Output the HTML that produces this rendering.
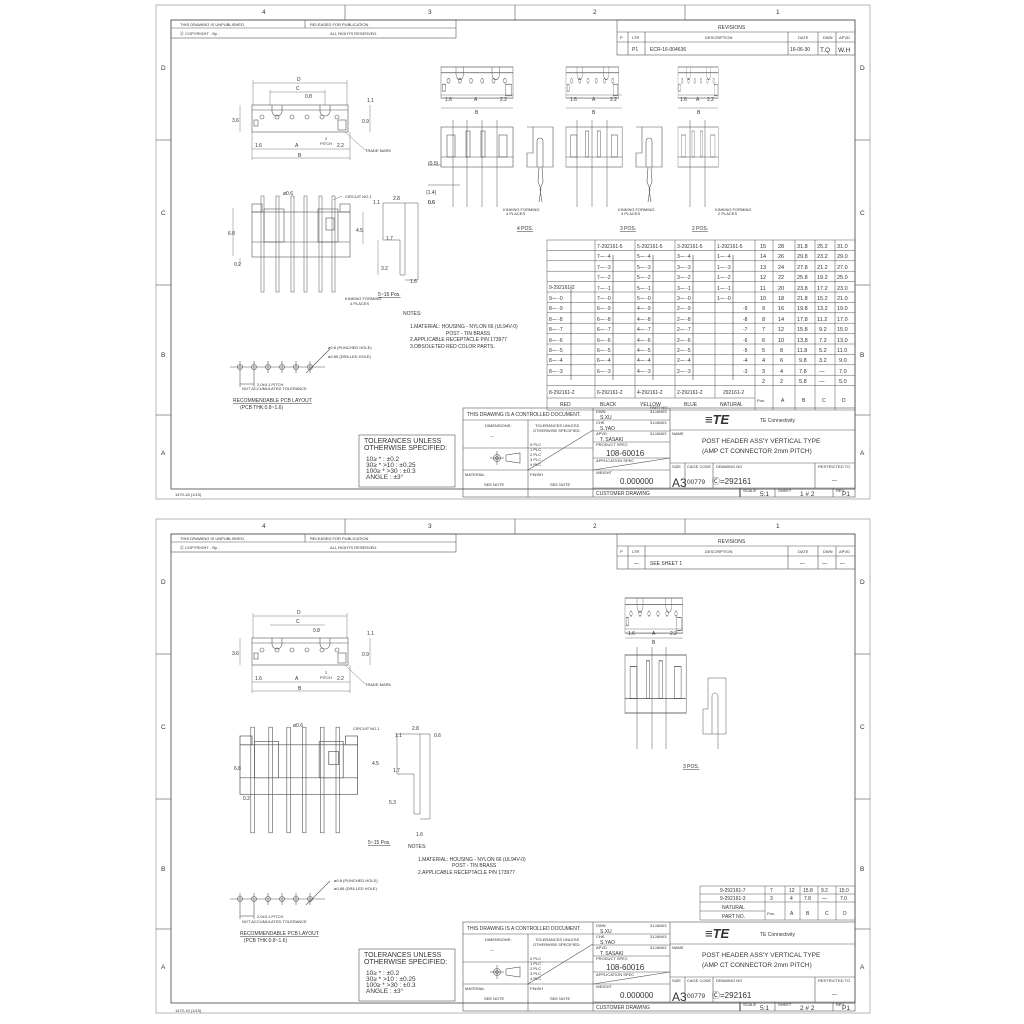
<!DOCTYPE html>
<html><head><meta charset="utf-8"><style>
html,body{margin:0;padding:0;background:#fff;}
svg{display:block;}
text{font-family:"Liberation Sans",sans-serif;fill:#333;}
.t{font-size:5px;}
.s{font-size:4px;}
.m{font-size:6.5px;}
.l{font-size:8px;}
.tl{font-size:7px;}
</style></head><body>
<svg width="1024" height="1024" viewBox="0 0 1024 1024" xmlns="http://www.w3.org/2000/svg" stroke="#555" stroke-width="0.6" fill="none">
<defs>
<g id="frame">
  <rect x="156" y="5" width="714" height="494" stroke="#888"/>
  <rect x="171" y="20" width="684" height="469" stroke="#444" stroke-width="0.8"/>
  <line x1="345" y1="5" x2="345" y2="20"/><line x1="515" y1="5" x2="515" y2="20"/><line x1="685" y1="5" x2="685" y2="20"/>
  <line x1="156" y1="140" x2="171" y2="140"/><line x1="156" y1="285" x2="171" y2="285"/><line x1="156" y1="415" x2="171" y2="415"/>
  <line x1="855" y1="140" x2="870" y2="140"/><line x1="855" y1="285" x2="870" y2="285"/><line x1="855" y1="415" x2="870" y2="415"/>
  <rect x="171" y="20" width="285" height="18"/><line x1="171" y1="28" x2="456" y2="28"/><line x1="305" y1="20" x2="305" y2="28"/>
  <rect x="617" y="20" width="238" height="35"/><line x1="617" y1="32" x2="855" y2="32"/><line x1="617" y1="42" x2="855" y2="42"/>
  <line x1="628" y1="32" x2="628" y2="55"/><line x1="645" y1="32" x2="645" y2="55"/><line x1="788" y1="32" x2="788" y2="55"/><line x1="818" y1="32" x2="818" y2="55"/><line x1="836" y1="32" x2="836" y2="55"/>
  <rect x="463" y="408" width="392" height="89"/>
  <line x1="463" y1="420" x2="593" y2="420"/><line x1="463" y1="448" x2="593" y2="448"/><line x1="463" y1="470" x2="593" y2="470"/>
  <line x1="528" y1="420" x2="528" y2="497"/><line x1="593" y1="408" x2="593" y2="497"/>
  <line x1="528" y1="470" x2="593" y2="430"/>
  <line x1="593" y1="420" x2="670" y2="420"/><line x1="593" y1="431" x2="670" y2="431"/><line x1="593" y1="442" x2="670" y2="442"/><line x1="593" y1="458" x2="670" y2="458"/><line x1="593" y1="470" x2="670" y2="470"/><line x1="593" y1="488" x2="855" y2="488"/>
  <line x1="593" y1="470" x2="670" y2="458"/>
  <line x1="670" y1="408" x2="670" y2="488"/>
  <line x1="670" y1="430" x2="855" y2="430"/><line x1="670" y1="463" x2="855" y2="463"/>
  <line x1="685" y1="463" x2="685" y2="488"/><line x1="713" y1="463" x2="713" y2="488"/><line x1="815" y1="463" x2="815" y2="488"/>
  <line x1="740" y1="488" x2="740" y2="497" stroke-width="1.2"/><line x1="775" y1="488" x2="775" y2="497"/><line x1="833" y1="488" x2="833" y2="497"/>
  <circle cx="497" cy="458" r="3.5"/><circle cx="497" cy="458" r="1.5"/><line x1="490" y1="458" x2="504" y2="458"/><line x1="497" y1="451" x2="497" y2="465"/>
  <path d="M506 455 L520 453 L520 463 L506 461 Z"/>
  <rect x="359" y="435" width="96" height="52"/>
</g>
<g id="topview">
  <rect x="0" y="0" width="96" height="27"/><line x1="0" y1="5" x2="96" y2="5"/>
  <path d="M20 0 v6 a5 5 0 0 0 10 0 v-6 M68 0 v6 a5 5 0 0 0 10 0 v-6"/>
  <circle cx="10" cy="12" r="2"/><circle cx="25" cy="12" r="2"/><circle cx="40" cy="12" r="2"/><circle cx="55" cy="12" r="2"/><circle cx="70" cy="12" r="2"/><circle cx="85" cy="12" r="2"/>
  <rect x="2" y="15" width="4" height="6"/><rect x="86" y="15" width="8" height="10"/>
</g>
<g id="sideview">
  <rect x="0" y="8" width="98" height="45"/><line x1="0" y1="38" x2="98" y2="38"/>
  <rect x="0" y="0" width="10" height="8"/><rect x="88" y="0" width="10" height="8"/>
  <rect x="12" y="5" width="20" height="33"/><rect x="66" y="5" width="20" height="33"/>
  <g stroke-width="0.5">
  <rect x="9" y="-8" width="3" height="96"/><rect x="24" y="-8" width="3" height="96"/><rect x="39" y="-8" width="3" height="96"/><rect x="52" y="-8" width="3" height="96"/><rect x="67" y="-8" width="3" height="96"/><rect x="80" y="-8" width="3" height="96"/>
  </g>
  <rect x="74" y="14" width="8" height="12"/>
</g>
<g id="front">
  <rect x="0" y="0" width="72" height="40"/><line x1="0" y1="30" x2="72" y2="30"/>
  <rect x="6" y="8" width="8" height="22"/><rect x="58" y="8" width="8" height="22"/>
  <rect x="25" y="4" width="4" height="26"/><rect x="40" y="4" width="4" height="26"/>
</g>
<g id="prof">
  <path d="M0 0 H26 V40 H0 V26 H6 V0 Z"/>
  <path d="M10 40 V14 a3 3 0 0 1 6 0 V40"/>
  <path d="M12 40 L11 55 L14 62 L12 75 M15 40 L16 55 L13 62 L15 75"/>
</g>
<g id="pcb">
  <line x1="0" y1="0" x2="95" y2="0"/>
  <circle cx="10" cy="0" r="2.5"/><circle cx="24" cy="0" r="2.5"/><circle cx="38" cy="0" r="2.5"/><circle cx="52" cy="0" r="2.5"/><circle cx="66" cy="0" r="2.5"/><circle cx="80" cy="0" r="2.5"/>
  <line x1="10" y1="-6" x2="10" y2="20"/><line x1="24" y1="-6" x2="24" y2="20"/><line x1="38" y1="-6" x2="38" y2="6"/><line x1="52" y1="-6" x2="52" y2="6"/><line x1="66" y1="-6" x2="66" y2="6"/><line x1="80" y1="-6" x2="80" y2="6"/>
  <line x1="10" y1="17" x2="24" y2="17"/><line x1="76" y1="6" x2="100" y2="-18"/>
</g>
</defs>

<use href="#frame"/>
<g stroke="none">
<text class="m" x="262" y="14">4</text><text class="m" x="428" y="14">3</text><text class="m" x="593" y="14">2</text><text class="m" x="776" y="14">1</text>
<text class="m" x="161" y="70">D</text><text class="m" x="161" y="215">C</text><text class="m" x="161" y="357">B</text><text class="m" x="161" y="455">A</text>
<text class="m" x="860" y="70">D</text><text class="m" x="860" y="215">C</text><text class="m" x="860" y="357">B</text><text class="m" x="860" y="455">A</text>
<text class="s" x="180" y="26">THIS DRAWING IS UNPUBLISHED.</text><text class="s" x="310" y="26">RELEASED FOR PUBLICATION</text>
<text class="s" x="180" y="35">Ⓒ COPYRIGHT  -   By -</text><text class="s" x="330" y="35">ALL RIGHTS RESERVED.</text>
<text class="t" x="718" y="29">REVISIONS</text>
<text class="s" x="620" y="39">P</text><text class="s" x="632" y="39">LTR</text><text class="s" x="705" y="39">DESCRIPTION</text><text class="s" x="798" y="39">DATE</text><text class="s" x="823" y="39">DWN</text><text class="s" x="839" y="39">APVD</text>
<text class="t" x="632" y="51">P1</text><text class="t" x="650" y="51">ECR-16-004636</text><text class="t" x="790" y="51">16-06-30</text><text class="m" x="820" y="52">T.Q</text><text class="m" x="838" y="52">W.H</text>
</g>

<use href="#topview" x="252" y="105"/>
<g stroke-width="0.4">
<line x1="253" y1="83" x2="347" y2="83"/><line x1="253" y1="80" x2="253" y2="105"/><line x1="347" y1="80" x2="347" y2="105"/>
<line x1="270" y1="92" x2="325" y2="92"/><line x1="270" y1="90" x2="270" y2="105"/><line x1="325" y1="90" x2="325" y2="105"/>
<line x1="252" y1="149" x2="350" y2="149"/><line x1="252" y1="158" x2="350" y2="158"/><line x1="252" y1="132" x2="252" y2="160"/><line x1="350" y1="132" x2="350" y2="160"/>
<line x1="240" y1="105" x2="240" y2="132"/><line x1="370" y1="105" x2="370" y2="132"/><line x1="345" y1="132" x2="365" y2="150"/>
</g>
<use href="#sideview" x="252" y="204"/>
<g stroke-width="0.4"><line x1="233" y1="208" x2="233" y2="256"/><line x1="240" y1="258" x2="240" y2="266"/><line x1="363" y1="212" x2="363" y2="244"/><line x1="333" y1="200" x2="342" y2="196"/></g>
<path d="M383 203 H405 V275 H400 V240 H383 Z M405 203 H418 V280 H405" stroke-width="0.5"/>
<line x1="378" y1="240" x2="378" y2="275" stroke-width="0.4"/>
<g stroke="none">
<text class="t" x="297" y="81">D</text><text class="t" x="296" y="90">C</text><text class="t" x="305" y="98">0.8</text><text class="t" x="367" y="102">1.1</text>
<text class="t" x="232" y="122">3.6</text><text class="t" x="362" y="123">0.9</text><text class="s" x="325" y="140">2</text><text class="s" x="320" y="145">PITCH</text>
<text class="t" x="255" y="147">1.6</text><text class="t" x="295" y="147">A</text><text class="t" x="337" y="147">2.2</text><text class="t" x="298" y="157">B</text>
<text class="s" x="365" y="152">TRADE MARK</text>
<text class="t" x="283" y="195">ø0.6</text><text class="s" x="345" y="198">CIRCUIT NO.1</text>
<text class="t" x="228" y="235">6.8</text><text class="t" x="356" y="232">4.5</text><text class="t" x="234" y="266">0.2</text>
<text class="s" x="345" y="300">KINKING FORMING</text><text class="s" x="350" y="305">4 PLACES</text>
<text class="t" x="393" y="200">2.8</text><text class="t" x="373" y="204">1.1</text><text class="t" x="428" y="204">0.6</text><text class="t" x="386" y="240">1.7</text><text class="t" x="381" y="270">3.2</text><text class="t" x="410" y="283">1.6</text>
<text class="t" x="378" y="296" text-decoration="underline">5~15 Pos.</text>
</g>

<use href="#topview" x="441" y="67" transform="translate(441 67) scale(0.75 1.15) translate(-441 -67)"/>
<use href="#topview" x="566" y="67" transform="translate(566 67) scale(0.55 1.15) translate(-566 -67)"/>
<use href="#topview" x="678" y="67" transform="translate(678 67) scale(0.42 1.15) translate(-678 -67)"/>
<g stroke-width="0.4">
<line x1="441" y1="95" x2="513" y2="95"/><line x1="441" y1="108" x2="513" y2="108"/>
<line x1="566" y1="95" x2="622" y2="95"/><line x1="566" y1="108" x2="622" y2="108"/>
<line x1="678" y1="95" x2="718" y2="95"/><line x1="678" y1="108" x2="718" y2="108"/>
</g>
<use href="#front" x="441" y="127"/>
<use href="#front" x="566" y="127" transform="translate(566 127) scale(0.78 1) translate(-566 -127)"/>
<use href="#front" x="678" y="127" transform="translate(678 127) scale(0.56 1) translate(-678 -127)"/>
<g stroke-width="0.5">
<line x1="453" y1="120" x2="453" y2="207"/><line x1="467" y1="120" x2="467" y2="207"/><line x1="482" y1="120" x2="482" y2="207"/><line x1="497" y1="120" x2="497" y2="207"/>
<line x1="577" y1="120" x2="577" y2="207"/><line x1="592" y1="120" x2="592" y2="207"/><line x1="607" y1="120" x2="607" y2="207"/>
<line x1="690" y1="120" x2="690" y2="207"/><line x1="705" y1="120" x2="705" y2="207"/>
<line x1="428" y1="165" x2="441" y2="165"/><line x1="428" y1="185" x2="460" y2="185"/>
</g>
<use href="#prof" x="527" y="127"/><use href="#prof" x="636" y="127"/>
<g stroke="none">
<text class="t" x="445" y="101">1.6</text><text class="t" x="474" y="101">A</text><text class="t" x="500" y="101">2.2</text><text class="t" x="475" y="114">B</text>
<text class="t" x="570" y="101">1.6</text><text class="t" x="592" y="101">A</text><text class="t" x="610" y="101">2.2</text><text class="t" x="592" y="114">B</text>
<text class="t" x="680" y="101">1.6</text><text class="t" x="696" y="101">A</text><text class="t" x="707" y="101">2.2</text><text class="t" x="697" y="114">B</text>
<text class="t" x="428" y="165">(0.5)</text><text class="t" x="426" y="194">(1.4)</text><text class="t" x="428" y="204">0.6</text>
<text class="s" x="503" y="211">KINKING FORMING</text><text class="s" x="506" y="215">4 PLACES</text>
<text class="s" x="618" y="211">KINKING FORMING</text><text class="s" x="621" y="215">3 PLACES</text>
<text class="s" x="715" y="211">KINKING FORMING</text><text class="s" x="718" y="215">2 PLACES</text>
<text class="t" x="517" y="230" text-decoration="underline">4 POS.</text><text class="t" x="620" y="230" text-decoration="underline">3 POS.</text><text class="t" x="692" y="230" text-decoration="underline">2 POS.</text>
<text class="t" x="403" y="315">NOTES:</text>
<text class="t" x="410" y="328">1.MATERIAL: HOUSING  -  NYLON 66 (UL94V-0)</text>
<text class="t" x="446" y="335">POST   -  TIN BRASS</text>
<text class="t" x="410" y="341">2.APPLICABLE RECEPTACLE P/N 173977</text>
<text class="t" x="410" y="348">3.OBSOLETED RED COLOR PARTS.</text>
</g>
<use href="#pcb" x="230" y="367"/>
<g stroke="none">
<text class="s" x="328" y="349">ø0.8 (PUNCHED HOLE)</text><text class="s" x="328" y="358">ø0.85 (DRILLED HOLE)</text>
<text class="s" x="257" y="386">2.0±0.1 PITCH</text><text class="s" x="242" y="390">NOT ACCUMULATED TOLERANCE</text>
<text class="t" x="233" y="402" text-decoration="underline">RECOMMENDABLE PCB LAYOUT</text><text class="t" x="240" y="409">(PCB THK:0.8~1.6)</text>
<text class="tl" x="364" y="443">TOLERANCES UNLESS</text><text class="tl" x="364" y="450">OTHERWISE SPECIFIED:</text>
<text class="m" x="366" y="461">10≥  *          :  ±0.2</text><text class="m" x="366" y="467">30≥  *  &gt;10   :  ±0.25</text><text class="m" x="366" y="473">100≥  *  &gt;30  :  ±0.3</text><text class="m" x="366" y="479">ANGLE           :  ±3°</text>
<text class="s" x="175" y="496">1470-18  (1/15)</text>
</g>

<g stroke-width="0.5">
<rect x="547" y="240" width="308" height="170"/>
<line x1="595" y1="240" x2="595" y2="398"/><line x1="635" y1="240" x2="635" y2="398"/><line x1="675" y1="240" x2="675" y2="398"/><line x1="715" y1="240" x2="715" y2="398"/><line x1="755" y1="240" x2="755" y2="410"/>
<line x1="773" y1="240" x2="773" y2="410"/><line x1="795" y1="240" x2="795" y2="410"/><line x1="815" y1="240" x2="815" y2="410"/><line x1="835" y1="240" x2="835" y2="410"/>
<line x1="547" y1="398" x2="755" y2="398"/>
<path d="M547 250.4H855M547 260.8H855M547 271.2H855M547 281.6H855M547 292H855M547 302.4H855M547 312.8H855M547 323.2H855M547 333.6H855M547 344H855M547 354.4H855M547 364.8H855M547 375.2H855M547 385.6H855"/>
<path d="M571 285 V380 M613 255 V380 M653 255 V380 M693 255 V380 M733 255 V380" stroke="#222"/>
</g>
<g stroke="none" font-size="5.5">
<text x="597" y="248" class="t">7-292161-5</text><text x="637" y="248" class="t">5-292161-5</text><text x="677" y="248" class="t">3-292161-5</text><text x="717" y="248" class="t">1-292161-5</text>
<text x="549" y="289" class="t">9-292161-2</text>
<text x="549" y="394" class="t">8-292161-2</text><text x="597" y="394" class="t">6-292161-2</text><text x="637" y="394" class="t">4-292161-2</text><text x="677" y="394" class="t">2-292161-2</text><text x="723" y="394" class="t">292161-2</text>
<text x="560" y="406" class="t">RED</text><text x="600" y="406" class="t">BLACK</text><text x="640" y="406" class="t">YELLOW</text><text x="684" y="406" class="t">BLUE</text><text x="720" y="406" class="t">NATURAL</text>
<text x="650" y="409" class="s">PART NO.</text><text x="757" y="402" class="s">Pos.</text><text x="781" y="402" class="t">A</text><text x="802" y="402" class="t">B</text><text x="822" y="402" class="t">C</text><text x="842" y="402" class="t">D</text>
</g>
<g stroke="none" font-size="5.5">
<text x="760" y="248">15</text><text x="778" y="248">28</text><text x="797" y="248">31.8</text><text x="817" y="248">25.2</text><text x="837" y="248">31.0</text>
<text x="760" y="258">14</text><text x="778" y="258">26</text><text x="797" y="258">29.8</text><text x="817" y="258">23.2</text><text x="837" y="258">29.0</text>
<text x="760" y="269">13</text><text x="778" y="269">24</text><text x="797" y="269">27.8</text><text x="817" y="269">21.2</text><text x="837" y="269">27.0</text>
<text x="760" y="279">12</text><text x="778" y="279">22</text><text x="797" y="279">25.8</text><text x="817" y="279">19.2</text><text x="837" y="279">25.0</text>
<text x="760" y="290">11</text><text x="778" y="290">20</text><text x="797" y="290">23.8</text><text x="817" y="290">17.2</text><text x="837" y="290">23.0</text>
<text x="760" y="300">10</text><text x="778" y="300">18</text><text x="797" y="300">21.8</text><text x="817" y="300">15.2</text><text x="837" y="300">21.0</text>
<text x="762" y="310">9</text><text x="778" y="310">16</text><text x="797" y="310">19.8</text><text x="817" y="310">13.2</text><text x="837" y="310">19.0</text>
<text x="762" y="321">8</text><text x="778" y="321">14</text><text x="797" y="321">17.8</text><text x="817" y="321">11.2</text><text x="837" y="321">17.0</text>
<text x="762" y="331">7</text><text x="778" y="331">12</text><text x="797" y="331">15.8</text><text x="819" y="331">9.2</text><text x="837" y="331">15.0</text>
<text x="762" y="342">6</text><text x="778" y="342">10</text><text x="797" y="342">13.8</text><text x="819" y="342">7.2</text><text x="837" y="342">13.0</text>
<text x="762" y="352">5</text><text x="780" y="352">8</text><text x="797" y="352">11.8</text><text x="819" y="352">5.2</text><text x="837" y="352">11.0</text>
<text x="762" y="362">4</text><text x="780" y="362">6</text><text x="799" y="362">9.8</text><text x="819" y="362">3.2</text><text x="839" y="362">9.0</text>
<text x="762" y="373">3</text><text x="780" y="373">4</text><text x="799" y="373">7.8</text><text x="819" y="373">—</text><text x="839" y="373">7.0</text>
<text x="762" y="383">2</text><text x="780" y="383">2</text><text x="799" y="383">5.8</text><text x="819" y="383">—</text><text x="839" y="383">5.0</text>
</g>
<g stroke="none" font-size="5">
<text x="597" y="258">7—   -4</text><text x="637" y="258">5—   -4</text><text x="677" y="258">3—   -4</text><text x="717" y="258">1—   -4</text>
<text x="597" y="269">7—   -3</text><text x="637" y="269">5—   -3</text><text x="677" y="269">3—   -3</text><text x="717" y="269">1—   -3</text>
<text x="597" y="279">7—   -2</text><text x="637" y="279">5—   -2</text><text x="677" y="279">3—   -2</text><text x="717" y="279">1—   -2</text>
<text x="597" y="290">7—   -1</text><text x="637" y="290">5—   -1</text><text x="677" y="290">3—   -1</text><text x="717" y="290">1—   -1</text>
<text x="597" y="300">7—   -0</text><text x="637" y="300">5—   -0</text><text x="677" y="300">3—   -0</text><text x="717" y="300">1—   -0</text>
<text x="597" y="310">6—   -9</text><text x="637" y="310">4—   -9</text><text x="677" y="310">2—   -9</text><text x="743" y="310">-9</text>
<text x="597" y="321">6—   -8</text><text x="637" y="321">4—   -8</text><text x="677" y="321">2—   -8</text><text x="743" y="321">-8</text>
<text x="597" y="331">6—   -7</text><text x="637" y="331">4—   -7</text><text x="677" y="331">2—   -7</text><text x="743" y="331">-7</text>
<text x="597" y="342">6—   -6</text><text x="637" y="342">4—   -6</text><text x="677" y="342">2—   -6</text><text x="743" y="342">-6</text>
<text x="597" y="352">6—   -5</text><text x="637" y="352">4—   -5</text><text x="677" y="352">2—   -5</text><text x="743" y="352">-5</text>
<text x="597" y="362">6—   -4</text><text x="637" y="362">4—   -4</text><text x="677" y="362">2—   -4</text><text x="743" y="362">-4</text>
<text x="597" y="373">6—   -3</text><text x="637" y="373">4—   -3</text><text x="677" y="373">2—   -3</text><text x="743" y="373">-3</text>
<text x="549" y="300">9—   -0</text><text x="549" y="310">8—   -9</text><text x="549" y="321">8—   -8</text><text x="549" y="331">8—   -7</text><text x="549" y="342">8—   -6</text><text x="549" y="352">8—   -5</text><text x="549" y="362">8—   -4</text><text x="549" y="373">8—   -3</text>
</g>

<g stroke="none">
<text class="t" x="467" y="416">THIS DRAWING IS A CONTROLLED DOCUMENT.</text>
<text class="s" x="485" y="427">DIMENSIONS:</text><text class="s" x="535" y="427">TOLERANCES UNLESS</text><text class="s" x="533" y="432">OTHERWISE SPECIFIED:</text>
<text class="s" x="490" y="437">—</text>
<text class="s" x="530" y="446">0 PLC</text><text class="s" x="530" y="451">1 PLC</text><text class="s" x="530" y="456">2 PLC</text><text class="s" x="530" y="461">3 PLC</text><text class="s" x="530" y="466">4 PLC</text>
<text class="s" x="465" y="476">MATERIAL</text><text class="s" x="530" y="476">FINISH</text><text class="s" x="484" y="486">SEE NOTE</text><text class="s" x="550" y="486">SEE NOTE</text>
<text class="s" x="596" y="413">DWN</text><text class="t" x="600" y="419">S.XU</text><text class="s" x="650" y="413">31JAN03</text>
<text class="s" x="596" y="424">CHK</text><text class="t" x="600" y="430">S.YAO</text><text class="s" x="650" y="424">31JAN03</text>
<text class="s" x="596" y="435">APVD</text><text class="t" x="600" y="441">T. SASAKI</text><text class="s" x="650" y="435">31JAN03</text>
<text class="s" x="596" y="446">PRODUCT SPEC</text><text class="l" x="606" y="456">108-60016</text>
<text class="s" x="596" y="462">APPLICATION SPEC</text><text class="s" x="596" y="474">WEIGHT</text><text class="l" x="620" y="484">0.000000</text>
<text class="t" x="596" y="495">CUSTOMER DRAWING</text>
<text x="705" y="424" font-size="13" font-weight="bold" font-style="italic" fill="#111">≡TE</text><text class="t" x="760" y="422">TE Connectivity</text>
<text class="s" x="672" y="435">NAME</text>
<text class="m" x="702" y="443">POST HEADER ASS'Y VERTICAL TYPE</text><text class="m" x="702" y="453">(AMP CT CONNECTOR 2mm PITCH)</text>
<text class="s" x="672" y="468">SIZE</text><text class="s" x="687" y="468">CAGE CODE</text><text class="s" x="716" y="468">DRAWING NO</text><text class="s" x="818" y="468">RESTRICTED TO</text>
<text x="672" y="487" font-size="12">A3</text><text class="m" x="687" y="484">00779</text><text class="l" x="712" y="484">Ⓒ=292161</text><text class="t" x="832" y="482">—</text>
<text class="s" x="743" y="492">SCALE</text><text class="m" x="760" y="496">5:1</text><text class="s" x="778" y="492">SHEET</text><text class="m" x="800" y="496">1 # 2</text><text class="s" x="836" y="492">REV</text><text class="m" x="842" y="496">P1</text>
</g>

<g transform="translate(0 514)">
<use href="#frame"/>
<g stroke="none">
<text class="m" x="262" y="14">4</text><text class="m" x="428" y="14">3</text><text class="m" x="593" y="14">2</text><text class="m" x="776" y="14">1</text>
<text class="m" x="161" y="70">D</text><text class="m" x="161" y="215">C</text><text class="m" x="161" y="357">B</text><text class="m" x="161" y="455">A</text>
<text class="m" x="860" y="70">D</text><text class="m" x="860" y="215">C</text><text class="m" x="860" y="357">B</text><text class="m" x="860" y="455">A</text>
<text class="s" x="180" y="26">THIS DRAWING IS UNPUBLISHED.</text><text class="s" x="310" y="26">RELEASED FOR PUBLICATION</text>
<text class="s" x="180" y="35">Ⓒ COPYRIGHT  -   By -</text><text class="s" x="330" y="35">ALL RIGHTS RESERVED.</text>
<text class="t" x="718" y="29">REVISIONS</text>
<text class="s" x="620" y="39">P</text><text class="s" x="632" y="39">LTR</text><text class="s" x="705" y="39">DESCRIPTION</text><text class="s" x="798" y="39">DATE</text><text class="s" x="823" y="39">DWN</text><text class="s" x="839" y="39">APVD</text>
<text class="t" x="634" y="51">—</text><text class="t" x="650" y="51">SEE SHEET 1</text><text class="t" x="800" y="51">—</text><text class="t" x="822" y="51">—</text><text class="t" x="840" y="51">—</text>
</g>
<use href="#topview" x="252" y="124"/>
<g stroke-width="0.4">
<line x1="253" y1="102" x2="347" y2="102"/><line x1="253" y1="99" x2="253" y2="124"/><line x1="347" y1="99" x2="347" y2="124"/>
<line x1="270" y1="111" x2="325" y2="111"/>
<line x1="252" y1="168" x2="350" y2="168"/><line x1="252" y1="177" x2="350" y2="177"/><line x1="252" y1="151" x2="252" y2="179"/><line x1="350" y1="151" x2="350" y2="179"/>
<line x1="240" y1="124" x2="240" y2="151"/><line x1="370" y1="124" x2="370" y2="151"/><line x1="345" y1="151" x2="365" y2="170"/>
</g>
<use href="#sideview" x="240" y="222" transform="translate(240 222) scale(1.2 1.1) translate(-240 -222)"/>
<path d="M397 220 H420 V300 H414 V260 H397 Z M420 220 H430 V305 H420" stroke-width="0.5"/>
<g stroke="none">
<text class="t" x="297" y="100">D</text><text class="t" x="296" y="109">C</text><text class="t" x="313" y="118">0.8</text><text class="t" x="367" y="121">1.1</text>
<text class="t" x="232" y="141">3.6</text><text class="t" x="362" y="142">0.9</text><text class="s" x="325" y="160">2</text><text class="s" x="320" y="165">PITCH</text>
<text class="t" x="255" y="166">1.6</text><text class="t" x="295" y="166">A</text><text class="t" x="337" y="166">2.2</text><text class="t" x="298" y="176">B</text>
<text class="s" x="365" y="172">TRADE MARK</text>
<text class="t" x="293" y="213">ø0.6</text><text class="s" x="353" y="216">CIRCUIT NO.1</text>
<text class="t" x="234" y="256">6.8</text><text class="t" x="372" y="251">4.5</text><text class="t" x="243" y="286">0.2</text>
<text class="t" x="395" y="223">1.1</text><text class="t" x="412" y="216">2.8</text><text class="t" x="434" y="223">0.6</text><text class="t" x="393" y="258">1.7</text><text class="t" x="389" y="290">5.3</text><text class="t" x="416" y="322">1.6</text>
<text class="t" x="368" y="330" text-decoration="underline">5~15 Pos.</text>
<text class="t" x="408" y="334">NOTES:</text>
<text class="t" x="418" y="347">1.MATERIAL: HOUSING  -  NYLON 66 (UL94V-0)</text>
<text class="t" x="452" y="353">POST   -  TIN BRASS</text>
<text class="t" x="418" y="360">2.APPLICABLE RECEPTACLE P/N 173977</text>
</g>
<use href="#topview" x="625" y="84" transform="translate(625 84) scale(0.6 1.3) translate(-625 -84)"/>
<g stroke-width="0.4"><line x1="625" y1="115" x2="683" y2="115"/><line x1="625" y1="124" x2="683" y2="124"/></g>
<use href="#front" x="625" y="141" transform="translate(625 141) scale(0.85 1.45) translate(-625 -141)"/>
<g stroke-width="0.5"><line x1="637" y1="133" x2="637" y2="235"/><line x1="652" y1="133" x2="652" y2="235"/><line x1="666" y1="133" x2="666" y2="235"/></g>
<path d="M708 164 H726 V220 H703 V195 H708 Z" stroke-width="0.5"/><path d="M712 220 V182 a3 3 0 0 1 6 0 V235" stroke-width="0.5"/>
<g stroke="none">
<text class="t" x="628" y="121">1.6</text><text class="t" x="652" y="121">A</text><text class="t" x="670" y="121">2.2</text><text class="t" x="652" y="130">B</text>
<text class="t" x="683" y="254" text-decoration="underline">3 POS.</text>
</g>
<use href="#pcb" x="230" y="385"/>
<g stroke="none">
<text class="s" x="334" y="368">ø0.8 (PUNCHED HOLE)</text><text class="s" x="334" y="376">ø0.85 (DRILLED HOLE)</text>
<text class="s" x="257" y="404">2.0±0.1 PITCH</text><text class="s" x="242" y="409">NOT ACCUMULATED TOLERANCE</text>
<text class="t" x="240" y="421" text-decoration="underline">RECOMMENDABLE PCB LAYOUT</text><text class="t" x="244" y="428">(PCB THK:0.8~1.6)</text>
<text class="tl" x="364" y="443">TOLERANCES UNLESS</text><text class="tl" x="364" y="450">OTHERWISE SPECIFIED:</text>
<text class="m" x="366" y="461">10≥  *          :  ±0.2</text><text class="m" x="366" y="467">30≥  *  &gt;10   :  ±0.25</text><text class="m" x="366" y="473">100≥  *  &gt;30  :  ±0.3</text><text class="m" x="366" y="479">ANGLE           :  ±3°</text>
<text class="s" x="175" y="498">1470-19  (1/15)</text>
</g>
<g stroke-width="0.5">
<rect x="700" y="372" width="155" height="34"/>
<line x1="700" y1="380" x2="855" y2="380"/><line x1="700" y1="388" x2="855" y2="388"/><line x1="700" y1="397" x2="765" y2="397"/>
<line x1="765" y1="372" x2="765" y2="406"/><line x1="785" y1="372" x2="785" y2="406"/><line x1="800" y1="372" x2="800" y2="406"/><line x1="818" y1="372" x2="818" y2="406"/><line x1="836" y1="372" x2="836" y2="406"/>
</g>
<g stroke="none" font-size="5">
<text x="720" y="378">9-292161-7</text><text x="770" y="378">7</text><text x="789" y="378">12</text><text x="803" y="378">15.8</text><text x="821" y="378">9.2</text><text x="839" y="378">15.0</text>
<text x="720" y="386">9-292161-3</text><text x="770" y="386">3</text><text x="790" y="386">4</text><text x="804" y="386">7.8</text><text x="822" y="386">—</text><text x="840" y="386">7.0</text>
<text x="722" y="395">NATURAL</text><text x="722" y="404">PART NO.</text>
<text x="767" y="401" font-size="4">Pos.</text><text x="790" y="401">A</text><text x="806" y="401">B</text><text x="825" y="401">C</text><text x="843" y="401">D</text>
</g>
<g stroke="none">
<text class="t" x="467" y="416">THIS DRAWING IS A CONTROLLED DOCUMENT.</text>
<text class="s" x="485" y="427">DIMENSIONS:</text><text class="s" x="535" y="427">TOLERANCES UNLESS</text><text class="s" x="533" y="432">OTHERWISE SPECIFIED:</text>
<text class="s" x="490" y="437">—</text>
<text class="s" x="530" y="446">0 PLC</text><text class="s" x="530" y="451">1 PLC</text><text class="s" x="530" y="456">2 PLC</text><text class="s" x="530" y="461">3 PLC</text><text class="s" x="530" y="466">4 PLC</text>
<text class="s" x="465" y="476">MATERIAL</text><text class="s" x="530" y="476">FINISH</text><text class="s" x="484" y="486">SEE NOTE</text><text class="s" x="550" y="486">SEE NOTE</text>
<text class="s" x="596" y="413">DWN</text><text class="t" x="600" y="419">S.XU</text><text class="s" x="650" y="413">31JAN03</text>
<text class="s" x="596" y="424">CHK</text><text class="t" x="600" y="430">S.YAO</text><text class="s" x="650" y="424">31JAN03</text>
<text class="s" x="596" y="435">APVD</text><text class="t" x="600" y="441">T. SASAKI</text><text class="s" x="650" y="435">31JAN03</text>
<text class="s" x="596" y="446">PRODUCT SPEC</text><text class="l" x="606" y="456">108-60016</text>
<text class="s" x="596" y="462">APPLICATION SPEC</text><text class="s" x="596" y="474">WEIGHT</text><text class="l" x="620" y="484">0.000000</text>
<text class="t" x="596" y="495">CUSTOMER DRAWING</text>
<text x="705" y="424" font-size="13" font-weight="bold" font-style="italic" fill="#111">≡TE</text><text class="t" x="760" y="422">TE Connectivity</text>
<text class="s" x="672" y="435">NAME</text>
<text class="m" x="702" y="443">POST HEADER ASS'Y VERTICAL TYPE</text><text class="m" x="702" y="453">(AMP CT CONNECTOR 2mm PITCH)</text>
<text class="s" x="672" y="468">SIZE</text><text class="s" x="687" y="468">CAGE CODE</text><text class="s" x="716" y="468">DRAWING NO</text><text class="s" x="818" y="468">RESTRICTED TO</text>
<text x="672" y="487" font-size="12">A3</text><text class="m" x="687" y="484">00779</text><text class="l" x="712" y="484">Ⓒ=292161</text><text class="t" x="832" y="482">—</text>
<text class="s" x="743" y="492">SCALE</text><text class="m" x="760" y="496">5:1</text><text class="s" x="778" y="492">SHEET</text><text class="m" x="800" y="496">2 # 2</text><text class="s" x="836" y="492">REV</text><text class="m" x="842" y="496">P1</text>
</g>
</g>
</svg>
</body></html>
